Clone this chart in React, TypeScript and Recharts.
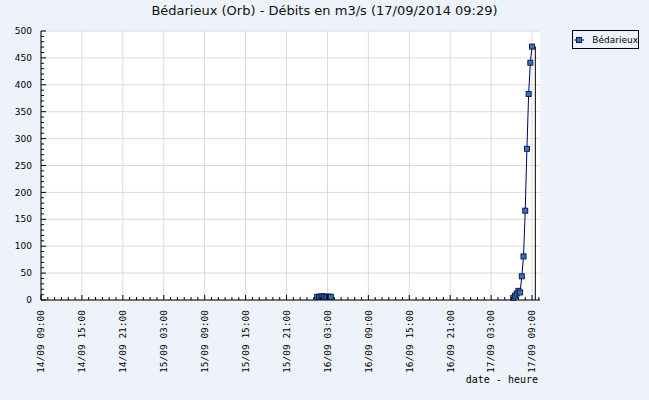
import React from "react";
import { LineChart, Line, XAxis, YAxis, CartesianGrid, ReferenceLine } from "recharts";

// relevés (heure UTC affichée telle quelle)
const times = [
  "2014-09-16T01:30", "2014-09-16T01:45", "2014-09-16T02:00", "2014-09-16T02:15",
  "2014-09-16T02:30", "2014-09-16T02:45", "2014-09-16T03:00", "2014-09-16T03:15",
  "2014-09-16T03:30",
  "2014-09-16T12:00",
  "2014-09-17T06:15", "2014-09-17T06:30", "2014-09-17T06:45", "2014-09-17T07:00",
  "2014-09-17T07:15", "2014-09-17T07:30", "2014-09-17T07:45", "2014-09-17T08:00",
  "2014-09-17T08:15", "2014-09-17T08:30", "2014-09-17T08:45", "2014-09-17T09:00",
];
const debits: (number | null)[] = [
  6, 6, 6, 7, 6, 6, 6, 6, 6,
  null,
  4, 8, 12, 17, 14, 44, 81, 166, 281, 383, 441, 471,
];

const xLabels = [
  "2014-09-14T09:00", "2014-09-14T15:00", "2014-09-14T21:00", "2014-09-15T03:00",
  "2014-09-15T09:00", "2014-09-15T15:00", "2014-09-15T21:00", "2014-09-16T03:00",
  "2014-09-16T09:00", "2014-09-16T15:00", "2014-09-16T21:00", "2014-09-17T03:00",
  "2014-09-17T09:00",
];
const yLabels = [0, 50, 100, 150, 200, 250, 300, 350, 400, 450, 500];

const title = "Bédarieux (Orb) - Débits en m3/s (17/09/2014 09:29)";
const seriesName = "Bédarieux";
const lastUpdate = "2014-09-17T09:29";
const domainStart = "2014-09-14T09:00";
const domainEnd = "2014-09-17T10:10";

const ts = (s: string) => new Date(s + ":00Z").getTime();
const HOUR = 3600 * 1000;

const data = times.map((t, i) => ({ t: ts(t), debit: debits[i] }));
const xMajor = xLabels.map(ts);
const majorSet = new Set(xMajor);
const xMinor: number[] = [];
for (let v = ts(domainStart); v <= ts(domainEnd); v += HOUR) xMinor.push(v);
const yMinor: number[] = [];
for (let v = 0; v <= 500; v += 10) yMinor.push(v);

const pad = (n: number) => String(n).padStart(2, "0");
const fmt = (v: number) => {
  const d = new Date(v);
  return `${pad(d.getUTCDate())}/${pad(d.getUTCMonth() + 1)} ${pad(d.getUTCHours())}:${pad(d.getUTCMinutes())}`;
};

const BG = "#eef3fb";

const XTick = (props: any) => {
  const { x, y, payload } = props;
  const major = majorSet.has(payload.value);
  return (
    <g>
      <line x1={x} x2={x} y1={y} y2={y - (major ? 5 : 3)} stroke="#000" />
      {major && (
        <text
          transform={`translate(${x},${y + 10}) rotate(-90)`}
          textAnchor="end"
          dy="0.35em"
          fontFamily="DejaVu Sans Mono"
          fontSize={9.5}
          fill="#000"
        >
          {fmt(payload.value)}
        </text>
      )}
    </g>
  );
};

const YTick = (props: any) => {
  const { x, y, payload } = props;
  const major = payload.value % 50 === 0;
  return (
    <g>
      <line x1={x} x2={x + (major ? 5 : 3)} y1={y} y2={y} stroke="#000" />
      {major && (
        <text x={x - 9} y={y} dy="0.35em" textAnchor="end" fontFamily="DejaVu Sans" fontSize={9} fill="#000">
          {payload.value}
        </text>
      )}
    </g>
  );
};

const SquareDot = (props: any) => {
  const { cx, cy, value } = props;
  if (value == null || cx == null || cy == null) return null;
  return <rect x={cx - 2.5} y={cy - 2.5} width={5} height={5} fill="#3b73b9" stroke="#0a1e50" strokeWidth={1} />;
};

export default function App() {
  return (
    <div style={{ position: "relative", width: 649, height: 400, background: BG }}>
      <style>{`body{margin:0;background:${BG}}`}</style>
      <div
        style={{
          position: "absolute",
          top: 3,
          left: 0,
          width: 649,
          textAlign: "center",
          fontFamily: "DejaVu Sans",
          fontSize: 13,
          lineHeight: "16px",
          color: "#111",
        }}
      >
        {title}
      </div>
      <LineChart width={649} height={400} data={data} margin={{ top: 31, right: 109, left: 0, bottom: 0 }}>
        <CartesianGrid
          fill="#fff"
          stroke="#dadada"
          horizontalValues={yLabels}
          verticalValues={xMajor}
        />
        <XAxis
          dataKey="t"
          type="number"
          domain={[ts(domainStart), ts(domainEnd)]}
          allowDataOverflow
          ticks={xMinor}
          interval={0}
          tick={<XTick />}
          tickSize={0}
          tickMargin={0}
          height={100}
          axisLine={{ stroke: "#000" }}
        />
        <YAxis
          type="number"
          domain={[0, 500]}
          ticks={yMinor}
          interval={0}
          tick={<YTick />}
          tickSize={0}
          tickMargin={0}
          width={41}
          axisLine={{ stroke: "#000" }}
        />
        <ReferenceLine
          segment={[
            { x: ts(lastUpdate), y: 0 },
            { x: ts(lastUpdate), y: 471 },
          ]}
          stroke="#000"
          strokeWidth={1}
        />
        <Line
          type="linear"
          dataKey="debit"
          name={seriesName}
          stroke="#000066"
          strokeWidth={1}
          dot={<SquareDot />}
          connectNulls={false}
          isAnimationActive={false}
        />
      </LineChart>
      <div
        style={{
          position: "absolute",
          right: 111,
          top: 374,
          fontFamily: "DejaVu Sans Mono",
          fontSize: 10,
          lineHeight: "12px",
          color: "#000",
        }}
      >
        date - heure
      </div>
      <div
        style={{
          position: "absolute",
          left: 572,
          top: 30,
          width: 65,
          height: 17,
          border: "1px solid #000",
          background: BG,
          display: "flex",
          alignItems: "center",
          fontFamily: "DejaVu Sans",
          fontSize: 9,
          color: "#000",
        }}
      >
        <svg width={18} height={10} style={{ marginLeft: 1 }}>
          <line x1={0} x2={10} y1={5} y2={5} stroke="#000066" />
          <rect x={2.5} y={2.5} width={5} height={5} fill="#3b73b9" stroke="#0a1e50" />
        </svg>
        <span style={{ marginLeft: 2 }}>{seriesName}</span>
      </div>
    </div>
  );
}
